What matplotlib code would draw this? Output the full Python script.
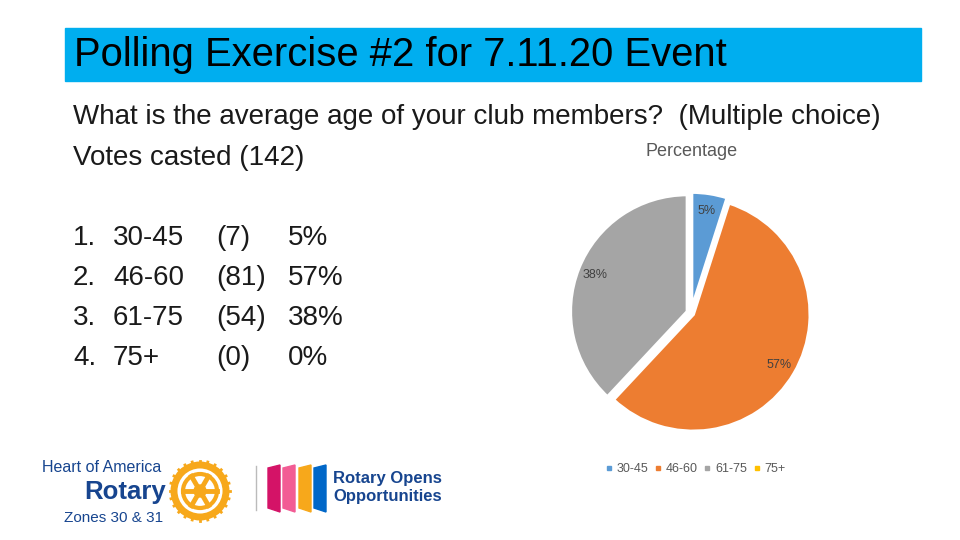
import numpy as np
import matplotlib.pyplot as plt
from matplotlib.patches import Rectangle, Circle, Polygon
from matplotlib.lines import Line2D

plt.rcParams['font.family'] = ['Liberation Sans', 'DejaVu Sans']

# data
age_groups = ['30-45', '46-60', '61-75', '75+']
votes = [7, 81, 54, 0]
pct_labels = ['5%', '57%', '38%', '0%']
slice_colors = ['#5B9BD5', '#ED7D31', '#A5A5A5', '#FFC000']

fig = plt.figure(figsize=(9.6, 5.4), dpi=100)

# full-figure overlay in pixel coordinates for the slide text
bg = fig.add_axes([0, 0, 1, 1])
bg.set_xlim(0, 960)
bg.set_ylim(540, 0)
bg.axis('off')

# title bar
bg.add_patch(Rectangle((65, 28), 856, 53, color='#00AEEF', zorder=1))
bg.text(74, 55, 'Polling Exercise #2 for 7.11.20 Event', fontsize=28.8,
        va='center', ha='left', color='black', zorder=2)

txt = '#1a1a1a'
bg.text(73, 117, 'What is the average age of your club members?  (Multiple choice)',
        fontsize=20, va='center', color=txt)
bg.text(73, 158, 'Votes casted (142)', fontsize=20, va='center', color=txt)

# numbered list
for i, (g, v, p) in enumerate(zip(age_groups, votes, pct_labels)):
    y = 238 + i * 40
    bg.text(73, y, f'{i + 1}.', fontsize=20, va='center', color=txt)
    bg.text(113, y, g, fontsize=20, va='center', color=txt)
    bg.text(216, y, f'({v})', fontsize=20, va='center', color=txt)
    bg.text(288, y, p, fontsize=20, va='center', color=txt)

# chart title
bg.text(692, 152, 'Percentage', fontsize=13, ha='center', va='center', color='#595959')

# ---- logos (rough) ----
navy = '#17458F'
bg.text(42, 467, 'Heart of America', fontsize=11.5, va='center', color=navy)
bg.text(84, 492, 'Rotary', fontsize=18.5, fontweight='bold', va='center', color=navy)
bg.text(64, 518, 'Zones 30 & 31', fontsize=11, va='center', color=navy)

gold = '#F7A81B'
cx, cy = 200, 491
bg.add_patch(Circle((cx, cy), 26, facecolor='white', edgecolor=gold, lw=5))
bg.add_patch(Circle((cx, cy), 17, facecolor='white', edgecolor=gold, lw=3))
for a in np.linspace(0, 2 * np.pi, 6, endpoint=False):
    bg.plot([cx, cx + 17 * np.cos(a)], [cy, cy + 17 * np.sin(a)], color=gold, lw=3.5)
bg.add_patch(Circle((cx, cy), 6, facecolor=gold, edgecolor=gold))
bg.add_patch(Circle((cx, cy), 2.5, facecolor='white', edgecolor='white'))
for a in np.linspace(0, 2 * np.pi, 24, endpoint=False):
    bg.plot([cx + 26 * np.cos(a), cx + 30 * np.cos(a)],
            [cy + 26 * np.sin(a), cy + 30 * np.sin(a)], color=gold, lw=2)

bg.plot([256, 256], [466, 510], color='#bbbbbb', lw=1)
doors = [(268, '#D41367'), (283, '#F25C94'), (299, '#F7A81B'), (314, '#0067C8')]
for x0, c in doors:
    bg.add_patch(Polygon([(x0, 468), (x0 + 12, 465), (x0 + 12, 512), (x0, 508)],
                         closed=True, color=c))
bg.text(333, 478, 'Rotary Opens', fontsize=12, fontweight='bold', va='center', color=navy)
bg.text(333, 496, 'Opportunities', fontsize=12, fontweight='bold', va='center', color=navy)

# ---- pie chart ----
size = 260
pcx, pcy = 691, 313
ax = fig.add_axes([(pcx - size / 2) / 960, (540 - pcy - size / 2) / 540, size / 960, size / 540])


def fmt(p):
    return '' if p < 0.5 else f'{p:.0f}%'


wedges, texts, autotexts = ax.pie(
    votes, colors=slice_colors, startangle=90, counterclock=False,
    radius=0.9, explode=[0.03, 0.02, 0.03, 0], autopct=fmt, pctdistance=0.85,
    wedgeprops=dict(edgecolor='white', linewidth=2.5),
    textprops=dict(fontsize=9, color='#404040'))
ax.set_xlim(-1, 1)
ax.set_ylim(-1, 1)
ax.set_aspect('equal')

handles = [Line2D([0], [0], marker='s', linestyle='none', markersize=3,
                  markerfacecolor=c, markeredgecolor=c) for c in slice_colors]
fig.legend(handles, age_groups, loc='center', ncol=4, frameon=False,
           bbox_to_anchor=(694 / 960, 1 - 469 / 540), fontsize=9,
           handletextpad=0.1, columnspacing=0.3, handlelength=1.0,
           labelcolor='#595959')

plt.savefig('out.png', dpi=100)
